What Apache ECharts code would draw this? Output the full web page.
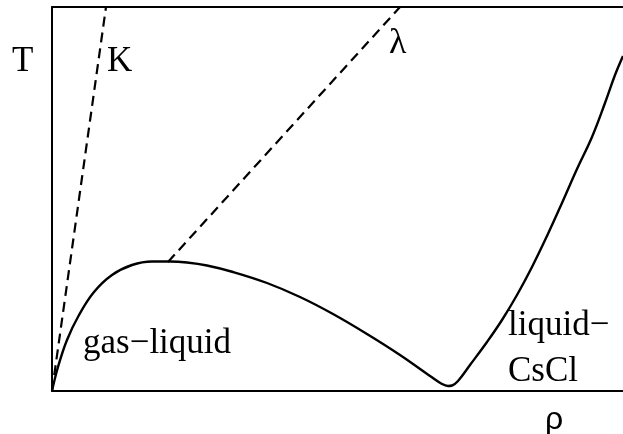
<!DOCTYPE html>
<html>
<head>
<meta charset="utf-8">
<title>phase diagram</title>
<script src="https://cdn.jsdelivr.net/npm/echarts@6/dist/echarts.min.js"></script>
<style>
  html, body { margin: 0; padding: 0; background: #fff; }
  #main { width: 623px; height: 434px; }
</style>
</head>
<body>
<div id="main"></div>
<script>
// coexistence boundary (rho, T) in arbitrary units
var boundaryRho = [0, 6, 15, 27, 42, 60, 80, 100, 118, 135, 155, 181, 215, 248, 281, 315, 348, 378, 390, 396, 400,
                   406, 418, 435, 450, 465, 480, 495, 510, 525, 540, 553, 563, 571];
var boundaryT   = [0, 24, 51, 76, 99, 116, 126, 129.5, 129.5, 128.5, 125.5, 119, 108, 94, 77, 57, 36, 15, 7, 5, 5.5,
                   10, 26, 49, 71, 96, 124, 155, 188, 222, 254, 288, 316, 335];
// Kertesz line and lambda line (dashed)
var kRho = [0, 54];
var kT   = [0, 384];
var lamRho = [116, 348];
var lamT   = [129, 384];

function pairs(xs, ys) {
  var out = [];
  for (var i = 0; i < xs.length; i++) out.push([xs[i], ys[i]]);
  return out;
}

var myChart = echarts.init(document.getElementById('main'));

var axisLine = { show: true, lineStyle: { color: '#000', width: 2 } };

var option = {
  animation: false,
  backgroundColor: '#fff',
  grid: { left: 52, right: 0, top: 7, bottom: 43 },
  xAxis: [
    { type: 'value', min: 0, max: 571, position: 'bottom', axisLine: axisLine,
      axisTick: { show: false }, axisLabel: { show: false }, splitLine: { show: false } },
    { type: 'value', min: 0, max: 571, position: 'top', axisLine: axisLine,
      axisTick: { show: false }, axisLabel: { show: false }, splitLine: { show: false } }
  ],
  yAxis: {
    type: 'value', min: 0, max: 384, axisLine: axisLine,
    axisTick: { show: false }, axisLabel: { show: false }, splitLine: { show: false }
  },
  series: [
    {
      type: 'line', smooth: 0.4, symbol: 'none',
      lineStyle: { color: '#000', width: 2.4 },
      data: pairs(boundaryRho, boundaryT)
    },
    {
      type: 'line', symbol: 'none',
      lineStyle: { color: '#000', width: 2.2, type: [10, 6] },
      data: pairs(kRho, kT)
    },
    {
      type: 'line', symbol: 'none',
      lineStyle: { color: '#000', width: 2.2, type: [10, 6] },
      data: pairs(lamRho, lamT)
    }
  ],
  graphic: [
    { type: 'text', left: 12, top: 44, style: { text: 'T', font: '35px "Liberation Serif"', fill: '#000' } },
    { type: 'text', left: 107, top: 44, style: { text: 'K', font: '35px "Liberation Serif"', fill: '#000' } },
    { type: 'text', left: 389, top: 26, style: { text: 'λ', font: '36px "Liberation Serif"', fill: '#000' } },
    { type: 'text', left: 83, top: 326, style: { text: 'gas−liquid', font: '35px "Liberation Serif"', fill: '#000' } },
    { type: 'text', left: 508, top: 308, style: { text: 'liquid−', font: '35px "Liberation Serif"', fill: '#000' } },
    { type: 'text', left: 508, top: 354, style: { text: 'CsCl', font: '35px "Liberation Serif"', fill: '#000' } },
    { type: 'text', left: 545, top: 404, style: { text: 'ρ', font: '32px "Liberation Sans"', fill: '#000' } }
  ]
};

myChart.setOption(option);
</script>
</body>
</html>
